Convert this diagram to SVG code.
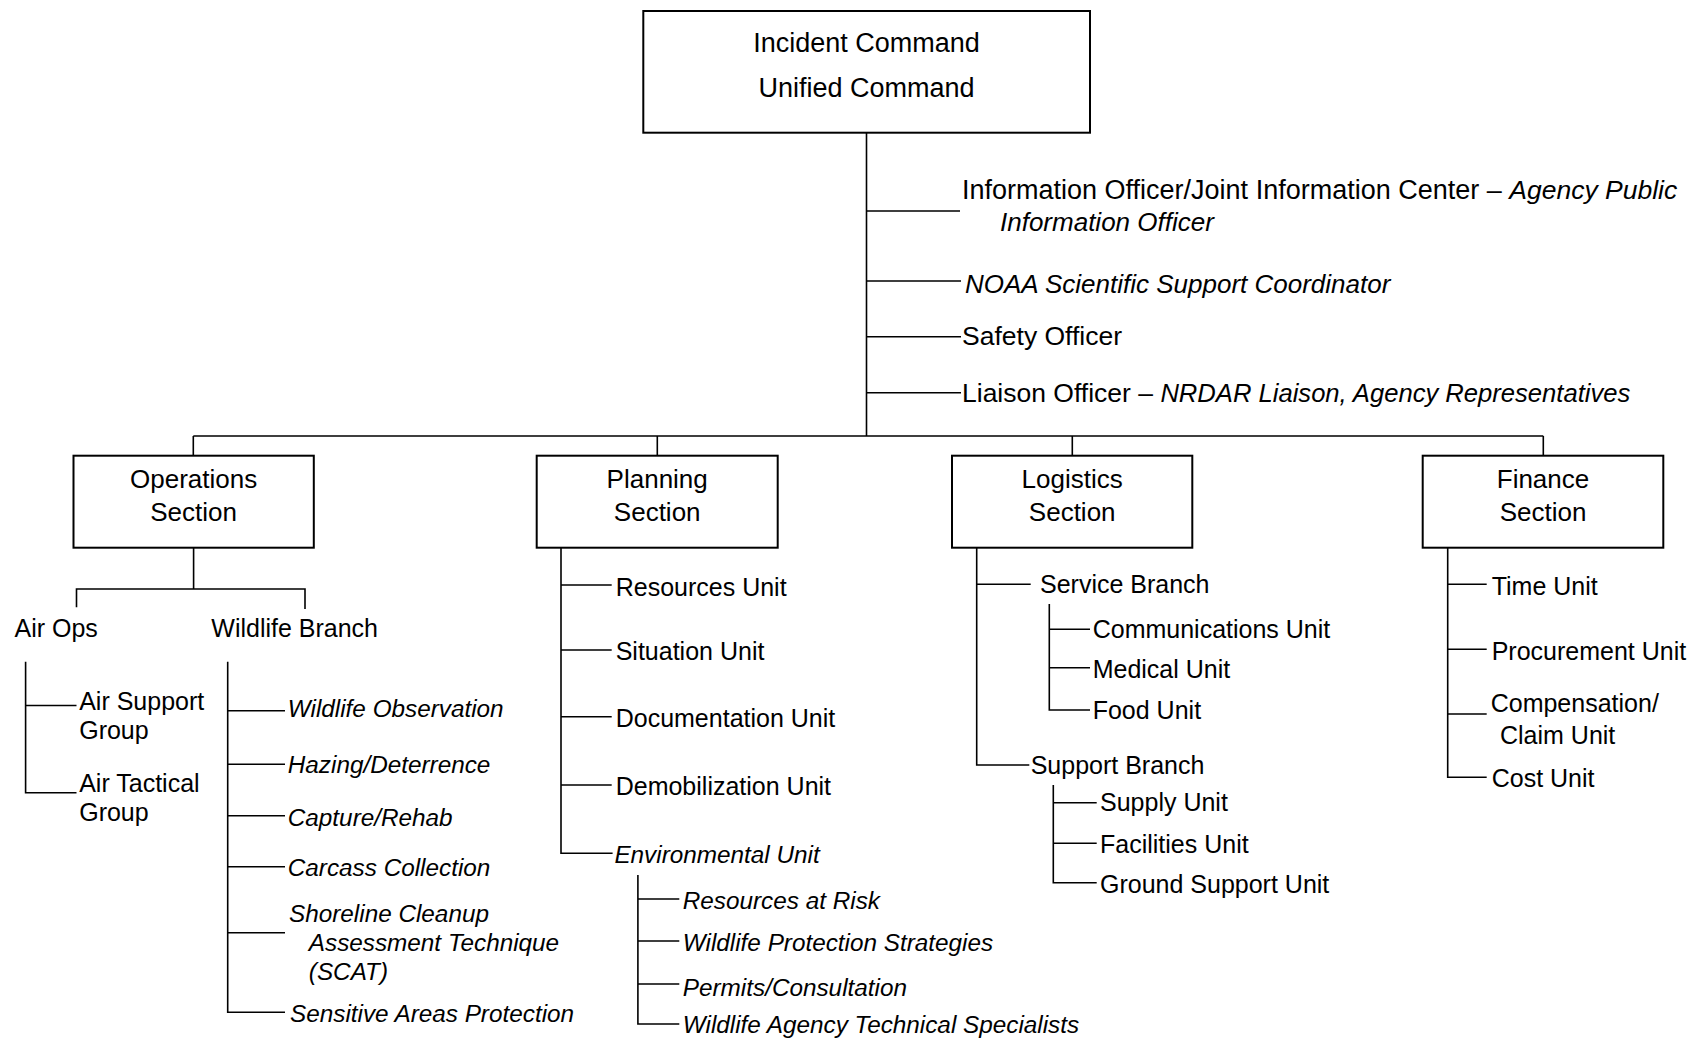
<svg xmlns="http://www.w3.org/2000/svg" width="1698" height="1039" viewBox="0 0 1698 1039">
<style>
.box{fill:#fff;stroke:#000;stroke-width:2}
.ln{fill:none;stroke:#000;stroke-width:1.6}
text{font-family:"Liberation Sans",Arial,sans-serif;fill:#000}
.hd{font-size:27px;text-anchor:middle}
.sec{font-size:26px;text-anchor:middle}
.top{font-size:26.5px}
.ti{font-size:26px;font-style:italic}
.b{font-size:25px}
.i{font-size:24.3px;font-style:italic}
</style>
<rect width="1698" height="1039" fill="#fff"/>
<g id="connectors">
<path class="ln" d="M866.5 133V436M193.3 436H1543.3M193.3 436V455.7M657.3 436V455.7M1072.3 436V455.7M1543.3 436V455.7"/>
<path class="ln" d="M866.5 211H960M866.5 281H961M866.5 336.7H961M866.5 392.7H961"/>
<path class="ln" d="M193.6 547.7V589M76.5 607.3V589H305V609"/>
<path class="ln" d="M25.6 661.7V792.7H76.5M25.6 705.5H76.5"/>
<path class="ln" d="M227.7 661.7V1012.3H285M227.7 710.7H285M227.7 764.3H285M227.7 815.7H285M227.7 866.7H285M227.7 932.7H285"/>
<path class="ln" d="M561 547.7V853.3H612.6M561 585H611.7M561 650H611.7M561 716.7H611.7M561 785H611.7"/>
<path class="ln" d="M637.9 875V1024H679.3M637.9 899H679.3M637.9 941H679.3M637.9 984H679.3"/>
<path class="ln" d="M976.7 547.7V765H1029.3M976.7 584.3H1030.7"/>
<path class="ln" d="M1049.3 604V710H1090M1049.3 629.3H1090M1049.3 667.7H1090"/>
<path class="ln" d="M1053.3 785V882.7H1096.7M1053.3 802.7H1096.7M1053.3 843.3H1096.7"/>
<path class="ln" d="M1447.7 547.7V777.3H1486.7M1447.7 584.3H1486.7M1447.7 649.3H1486.7M1447.7 714H1486.7"/>
</g>
<g id="incident-command">
<rect class="box" x="643.3" y="11" width="446.7" height="121.7"/>
<text class="hd" x="866.5" y="52">Incident Command</text>
<text class="hd" x="866.5" y="97">Unified Command</text>
</g>
<g id="information-officer">
<text class="top" x="962" y="199" style="font-size:27px">Information Officer/Joint Information Center – <tspan class="ti" style="font-size:26.5px">Agency Public</tspan></text>
<text class="ti" x="1000" y="231">Information Officer</text>
</g>
<g id="noaa-ssc"><text class="ti" x="965" y="292.5">NOAA Scientific Support Coordinator</text></g>
<g id="safety-officer"><text class="top" x="962" y="345">Safety Officer</text></g>
<g id="liaison-officer"><text class="top" x="962" y="401.5">Liaison Officer – <tspan class="ti" style="font-size:25.6px">NRDAR Liaison, Agency Representatives</tspan></text></g>
<g id="operations-section">
<rect class="box" x="73.5" y="455.7" width="240.3" height="92"/>
<text class="sec" x="193.6" y="488.3">Operations</text>
<text class="sec" x="193.6" y="520.7">Section</text>
</g>
<g id="air-ops"><text class="b" x="14.5" y="637.3">Air Ops</text></g>
<g id="air-support-group"><text class="b" x="79.2" y="710">Air Support</text><text class="b" x="79.2" y="739.3">Group</text></g>
<g id="air-tactical-group"><text class="b" x="79.2" y="792">Air Tactical</text><text class="b" x="79.2" y="821">Group</text></g>
<g id="wildlife-branch"><text class="b" x="211.3" y="637.3">Wildlife Branch</text></g>
<g id="wildlife-observation"><text class="i" x="287.8" y="716.5">Wildlife Observation</text></g>
<g id="hazing-deterrence"><text class="i" x="287.8" y="773.3">Hazing/Deterrence</text></g>
<g id="capture-rehab"><text class="i" x="287.8" y="826">Capture/Rehab</text></g>
<g id="carcass-collection"><text class="i" x="287.8" y="876">Carcass Collection</text></g>
<g id="scat"><text class="i" x="289" y="921.7">Shoreline Cleanup</text><text class="i" x="308.8" y="950.7">Assessment Technique</text><text class="i" x="308.8" y="980">(SCAT)</text></g>
<g id="sensitive-areas"><text class="i" x="290" y="1021.7">Sensitive Areas Protection</text></g>
<g id="planning-section">
<rect class="box" x="536.7" y="455.7" width="241" height="92"/>
<text class="sec" x="657.2" y="488.3">Planning</text>
<text class="sec" x="657.2" y="520.7">Section</text>
</g>
<g id="resources-unit"><text class="b" x="615.7" y="595.7">Resources Unit</text></g>
<g id="situation-unit"><text class="b" x="615.7" y="660">Situation Unit</text></g>
<g id="documentation-unit"><text class="b" x="615.7" y="726.7">Documentation Unit</text></g>
<g id="demobilization-unit"><text class="b" x="615.7" y="795">Demobilization Unit</text></g>
<g id="environmental-unit"><text class="i" x="614.4" y="863.3">Environmental Unit</text></g>
<g id="resources-at-risk"><text class="i" x="682.8" y="909.3">Resources at Risk</text></g>
<g id="wildlife-protection"><text class="i" x="682.8" y="951">Wildlife Protection Strategies</text></g>
<g id="permits"><text class="i" x="682.8" y="995.7">Permits/Consultation</text></g>
<g id="wildlife-agency"><text class="i" x="682.8" y="1033.3">Wildlife Agency Technical Specialists</text></g>
<g id="logistics-section">
<rect class="box" x="952" y="455.7" width="240.3" height="92"/>
<text class="sec" x="1072.2" y="488.3">Logistics</text>
<text class="sec" x="1072.2" y="520.7">Section</text>
</g>
<g id="service-branch"><text class="b" x="1040" y="593.3">Service Branch</text></g>
<g id="communications-unit"><text class="b" x="1092.7" y="638.3">Communications Unit</text></g>
<g id="medical-unit"><text class="b" x="1092.7" y="678.3">Medical Unit</text></g>
<g id="food-unit"><text class="b" x="1092.7" y="719.3">Food Unit</text></g>
<g id="support-branch"><text class="b" x="1030.7" y="774.3">Support Branch</text></g>
<g id="supply-unit"><text class="b" x="1100" y="811">Supply Unit</text></g>
<g id="facilities-unit"><text class="b" x="1100" y="853.3">Facilities Unit</text></g>
<g id="ground-support-unit"><text class="b" x="1100" y="893.3">Ground Support Unit</text></g>
<g id="finance-section">
<rect class="box" x="1422.7" y="455.7" width="240.6" height="92"/>
<text class="sec" x="1543" y="488.3">Finance</text>
<text class="sec" x="1543" y="520.7">Section</text>
</g>
<g id="time-unit"><text class="b" x="1491.7" y="595">Time Unit</text></g>
<g id="procurement-unit"><text class="b" x="1491.7" y="660">Procurement Unit</text></g>
<g id="compensation-unit"><text class="b" x="1490.7" y="712">Compensation/</text><text class="b" x="1500" y="743.5">Claim Unit</text></g>
<g id="cost-unit"><text class="b" x="1491.7" y="786.7">Cost Unit</text></g>
</svg>
